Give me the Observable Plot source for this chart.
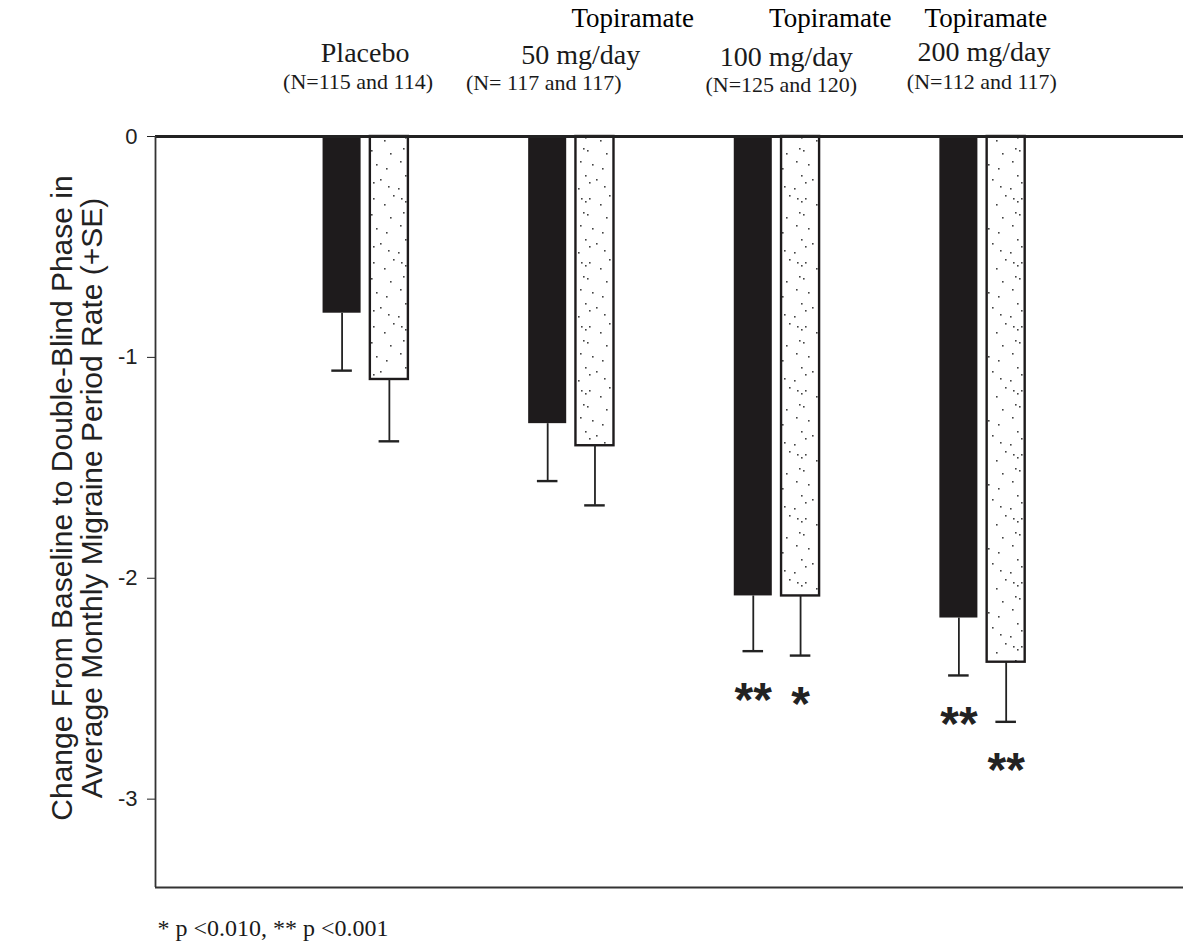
<!DOCTYPE html>
<html>
<head>
<meta charset="utf-8">
<script src="https://cdn.jsdelivr.net/npm/d3@7"></script>
<script src="https://cdn.jsdelivr.net/npm/@observablehq/plot@0.6"></script>
<style>
  html, body { margin: 0; padding: 0; background: #fff; }
  #chart { width: 1183px; height: 949px; overflow: hidden; }
</style>
</head>
<body>
<div id="chart"></div>
<script>
// ---- data ----
const groups = ["Placebo", "Topiramate 50 mg/day", "Topiramate 100 mg/day", "Topiramate 200 mg/day"];
const headerTop = ["", "Topiramate", "Topiramate", "Topiramate"];
const headerMid = ["Placebo", "50 mg/day", "100 mg/day", "200 mg/day"];
const headerN = ["(N=115 and 114)", "(N= 117 and 117)", "(N=125 and 120)", "(N=112 and 117)"];
const series = ["Study 1", "Study 2"];
const study1Mean = [-0.80, -1.30, -2.08, -2.18];
const study1SE = [0.26, 0.26, 0.25, 0.26];
const study2Mean = [-1.10, -1.40, -2.08, -2.38];
const study2SE = [0.28, 0.27, 0.27, 0.27];
const study1Sig = ["", "", "**", "**"];
const study2Sig = ["", "", "*", "**"];
const yTicks = [0, -1, -2, -3];
const yTitle = "Change From Baseline to Double-Blind Phase in\nAverage Monthly Migraine Period Rate (+SE)";
const footnote = "* p <0.010, ** p <0.001";

// ---- table built from the arrays ----
const rows = [];
groups.forEach((g, i) => {
  rows.push({group: g, slot: i + 1, series: series[0], mean: study1Mean[i], se: study1SE[i], sig: study1Sig[i]});
  rows.push({group: g, slot: i + 1, series: series[1], mean: study2Mean[i], se: study2SE[i], sig: study2Sig[i]});
});
const heads = groups.map((g, i) => ({group: g, slot: i + 1, top: headerTop[i], mid: headerMid[i], n: headerN[i]}));

// layout helpers (bar placement within a group, in x units)
const barOffset = {"Study 1": [-0.185, 0.0], "Study 2": [0.045, 0.23]};
const bx1 = d => d.slot + barOffset[d.series][0];
const bx2 = d => d.slot + barOffset[d.series][1];
const bxc = d => (bx1(d) + bx2(d)) / 2;
const yMin = -3.4;

// header label nudges (pixels), per group: [dx, dy]
const topNudge = [[0, 0], [66, 0], [58, 0], [8, 0]];
const midNudge = [[4, -83], [14, -81], [14, -79], [6, -84]];
const nNudge = [[-3, -55], [-23, -54], [9, -52], [4, -55]];

const serif = "'Liberation Serif', 'Times New Roman', serif";
const sans = "'Liberation Sans', Arial, sans-serif";

const headerMarks = [];
heads.forEach((h, i) => {
  if (h.top) headerMarks.push(Plot.text([h], {x: "slot", y: 0, text: "top", dx: topNudge[i][0], dy: -118, fontSize: 27, fontFamily: serif, fill: "#000"}));
  headerMarks.push(Plot.text([h], {x: "slot", y: 0, text: "mid", dx: midNudge[i][0], dy: midNudge[i][1], fontSize: 28, fontFamily: serif, fill: "#1a1a1a"}));
  headerMarks.push(Plot.text([h], {x: "slot", y: 0, text: "n", dx: nNudge[i][0], dy: nNudge[i][1], fontSize: 22, fontFamily: serif, fill: "#1a1a1a"}));
});

const plot = Plot.plot({
  width: 1183,
  height: 949,
  marginLeft: 155,
  marginRight: 0,
  marginTop: 136,
  marginBottom: 62,
  style: {fontFamily: sans, fontSize: "22px", color: "#222", background: "#fff", overflow: "visible"},
  x: {domain: [0, 5], axis: null},
  y: {domain: [yMin, 0], ticks: yTicks, tickSize: 8, tickPadding: 10, tickFormat: d => String(d), label: null},
  marks: [
    // bars
    Plot.rectY(rows.filter(d => d.series === series[0]), {x1: bx1, x2: bx2, y1: 0, y2: "mean", fill: "#1e1b1c"}),
    Plot.rectY(rows.filter(d => d.series === series[1]), {x1: bx1, x2: bx2, y1: 0, y2: "mean", fill: "url(#speckle)", stroke: "#1e1b1c", strokeWidth: 2.4}),
    // error bars (one-sided)
    Plot.ruleX(rows, {x: bxc, y1: "mean", y2: d => d.mean - d.se, stroke: "#222", strokeWidth: 1.8}),
    Plot.ruleY(rows, {y: d => d.mean - d.se, x1: d => bxc(d) - 0.05, x2: d => bxc(d) + 0.05, stroke: "#222", strokeWidth: 2.4}),
    // significance stars
    Plot.text(rows.filter(d => d.sig), {x: bxc, y: d => d.mean - d.se, text: "sig", dy: 49, fontSize: 48, fontWeight: "bold", fontFamily: sans, fill: "#222"}),
    // frame lines
    Plot.ruleY([0], {stroke: "#222", strokeWidth: 2.8}),
    Plot.ruleX([0], {stroke: "#333", strokeWidth: 1.8}),
    Plot.ruleY([yMin], {stroke: "#333", strokeWidth: 1.8}),
    ...headerMarks,
    // y-axis title
    Plot.text([yTitle], {frameAnchor: "left", text: d => d, rotate: -90, textAnchor: "middle", dx: -78, dy: -14, fontSize: 30, lineHeight: 1.0, fontFamily: sans, fill: "#222"}),
    // footnote
    Plot.text([footnote], {frameAnchor: "bottom-left", text: d => d, dx: 2, dy: 48, textAnchor: "start", fontSize: 24, fontFamily: serif, fill: "#1a1a1a"})
  ]
});

// speckled fill for the second series
const defs = d3.select(plot).insert("defs", ":first-child");
const pat = defs.append("pattern").attr("id", "speckle").attr("patternUnits", "userSpaceOnUse")
  .attr("width", 36).attr("height", 64);
pat.append("rect").attr("width", 36).attr("height", 64).attr("fill", "#fff");
[[5,6],[9,9],[13,6],[24,12],[7,20],[11,22],[30,25],[4,33],[16,36],[26,40],[9,47],[20,51],[13,54],[28,58],[2,60],[33,3]]
  .forEach(([cx, cy]) => pat.append("rect").attr("x", cx).attr("y", cy).attr("width", 1.6).attr("height", 1.6).attr("fill", "#444"));

document.getElementById("chart").appendChild(plot);
</script>
</body>
</html>
